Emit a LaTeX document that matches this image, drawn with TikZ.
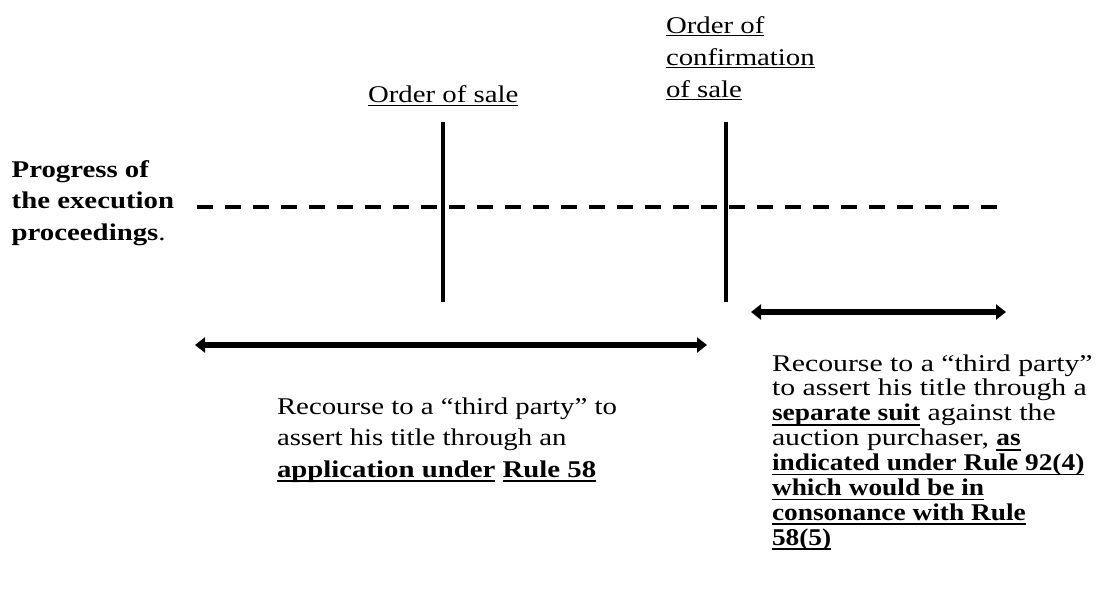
\documentclass[tikz,border=0pt]{standalone}
\usepackage{fontspec}
\setmainfont{Liberation Serif}[FakeStretch=1.2]
\newfontfamily\rblockfont{Liberation Serif}[FakeStretch=1.24, BoldFeatures={FakeStretch=1.14}]
\usetikzlibrary{arrows.meta}
\newcommand\ulr[1]{\leavevmode\setbox0=\hbox{#1}\rlap{\rule[-1.7pt]{\wd0}{0.6pt}}\box0\relax}
\newcommand\ulb[1]{\leavevmode\setbox0=\hbox{\bfseries #1}\rlap{\rule[-2.4pt]{\wd0}{0.9pt}}\box0\relax}
\begin{document}
\begin{tikzpicture}[x=0.5pt,y=-0.5pt,
  txt/.style={anchor=base west, inner sep=0pt, outer sep=0pt},
  vline/.style={line width=2pt},
  dline/.style={line width=2pt, dash pattern=on 7.85pt off 6.15pt},
  span/.style={line width=3.2pt, {Triangle[width=7.5pt,length=5pt]}-{Triangle[width=7.5pt,length=5pt]}}]
\useasboundingbox (0,0) rectangle (1102,601);

% labels
\node[txt] (os) at (368,102.7) {\fontsize{12}{16}\selectfont\ulr{Order of sale}};
\node[txt] (oc) at (666,33) {\parbox[t]{100pt}{\fontsize{12}{16}\selectfont\lineskiplimit=-100pt
  \ulr{Order of}\\ \ulr{confirmation}\\ \ulr{of sale}}};
\node[txt] (pg) at (11.7,177) {\parbox[t]{100pt}{\fontsize{12}{15.75}\selectfont\lineskiplimit=-100pt
  \textbf{Progress of}\\ \textbf{the execution}\\ \textbf{proceedings}.}};
\node[txt] (lt) at (277,414) {\parbox[t]{220pt}{\fontsize{12}{15.75}\selectfont\lineskiplimit=-100pt
  Recourse to a “third party” to\\ assert his title through an\\
  \ulb{application under} \ulb{Rule 58}}};
\node[txt] (rt) at (772,371) {\parbox[t]{165pt}{\rblockfont\fontsize{12}{12.45}\selectfont\lineskiplimit=-100pt
  Recourse to a “third party”\\ to assert his title through a\\
  \ulb{separate suit} against the\\ auction purchaser, \ulb{as}\\
  \ulb{indicated under Rule 92(4)}\\ \ulb{which would be in}\\
  \ulb{consonance with Rule}\\ \ulb{58(5)}}};

% coordinates
\coordinate (dl) at (197,207);
\coordinate (dr) at (997,207);
\coordinate (v1t) at (443,122);
\coordinate (v1b) at (443,302);
\coordinate (v2t) at (726,122);
\coordinate (v2b) at (726,302);
\coordinate (la) at (195,345);
\coordinate (lb) at (707,345);
\coordinate (ra) at (751,312);
\coordinate (rb) at (1006,312);

\draw[dline] (dl) -- (dr);
\draw[vline] (v1t) -- (v1b);
\draw[vline] (v2t) -- (v2b);
\draw[span] (la) -- (lb);
\draw[span] (ra) -- (rb);
\end{tikzpicture}
\end{document}
